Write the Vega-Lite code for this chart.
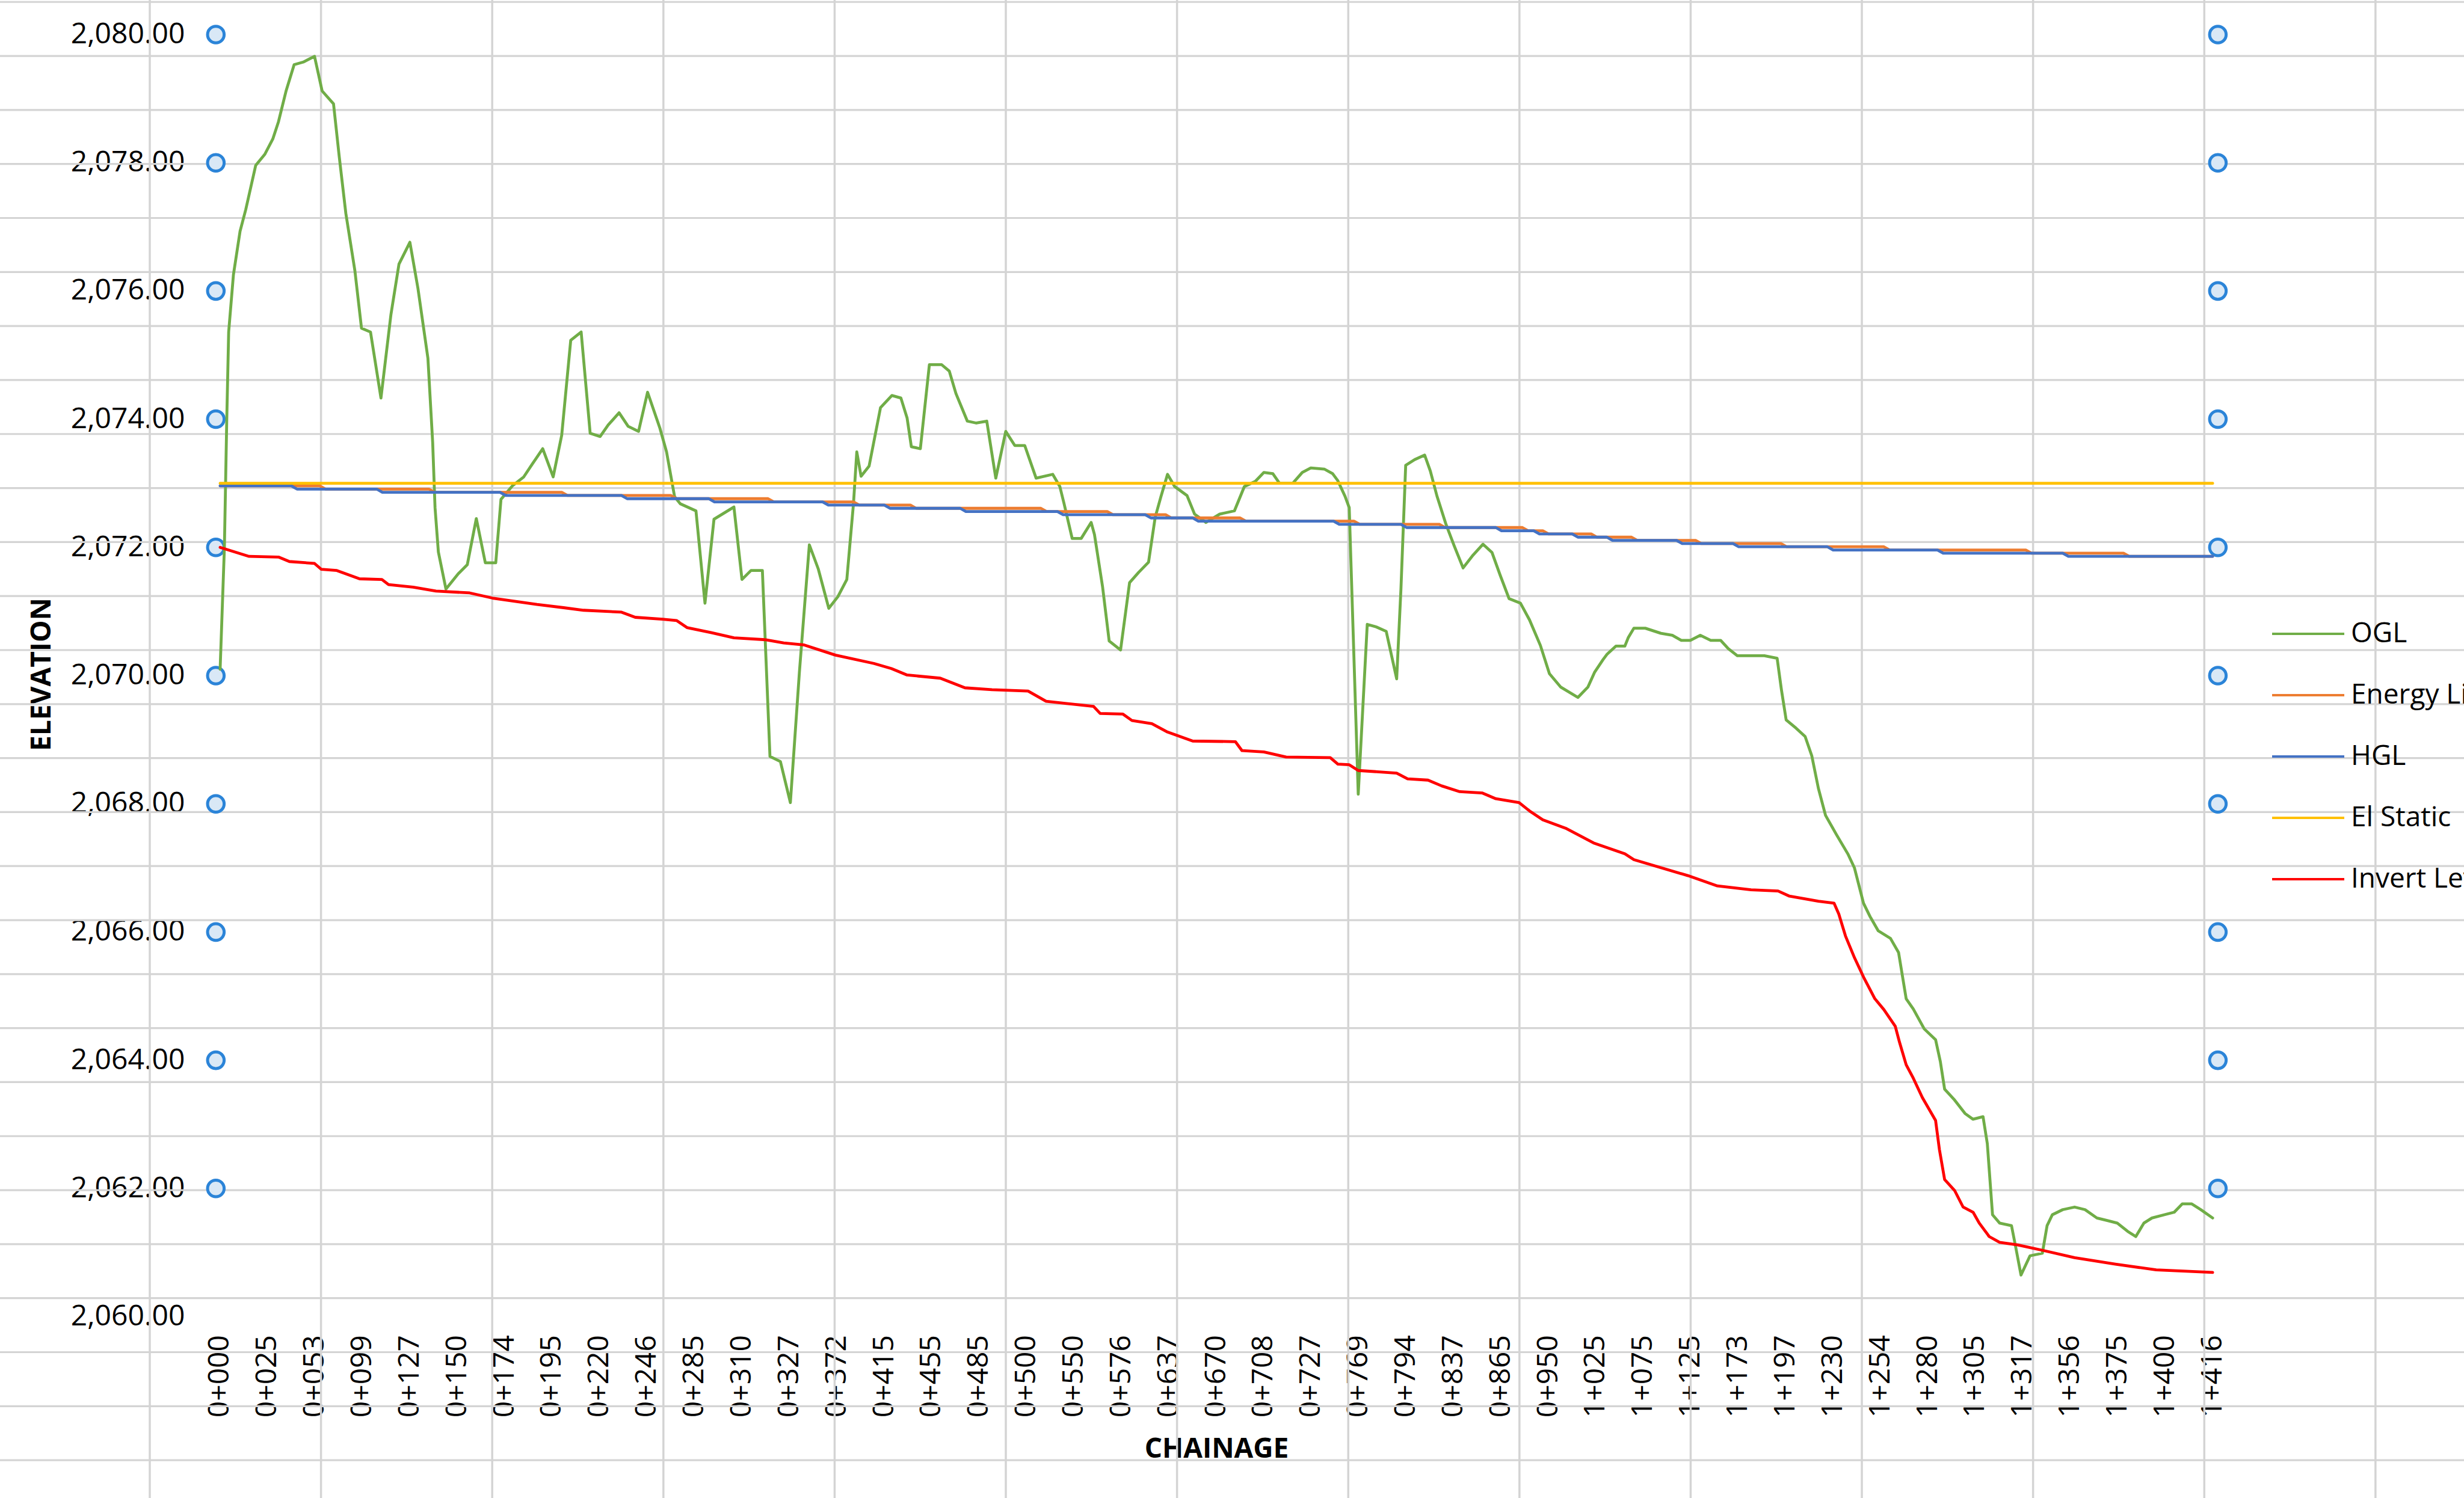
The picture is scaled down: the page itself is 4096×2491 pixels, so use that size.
{
  "$schema": "https://vega.github.io/schema/vega-lite/v6.json",
  "width": 4096,
  "height": 2491,
  "padding": 0,
  "autosize": {"type": "none"},
  "background": "white",
  "config": {"view": {"stroke": null}, "font": "Open Sans"},
  "datasets": {
    "cols": [{"col":0},{"col":1},{"col":2},{"col":3},{"col":4},{"col":5},{"col":6},{"col":7},{"col":8},{"col":9},{"col":10},{"col":11},{"col":12},{"col":13}],
    "rows": [{"row":0},{"row":1},{"row":2},{"row":3},{"row":4},{"row":5},{"row":6},{"row":7},{"row":8},{"row":9},{"row":10},{"row":11},{"row":12},{"row":13},{"row":14},{"row":15},{"row":16},{"row":17},{"row":18},{"row":19},{"row":20},{"row":21},{"row":22},{"row":23},{"row":24},{"row":25},{"row":26},{"row":27}],
    "handles": [
      {"p":-0.09,"v":2062},{"p":-0.09,"v":2064},{"p":-0.09,"v":2066},{"p":-0.09,"v":2068},{"p":-0.09,"v":2070},{"p":-0.09,"v":2072},{"p":-0.09,"v":2074},{"p":-0.09,"v":2076},{"p":-0.09,"v":2078},{"p":-0.09,"v":2080},
      {"p":42.11,"v":2062},{"p":42.11,"v":2064},{"p":42.11,"v":2066},{"p":42.11,"v":2068},{"p":42.11,"v":2070},{"p":42.11,"v":2072},{"p":42.11,"v":2074},{"p":42.11,"v":2076},{"p":42.11,"v":2078},{"p":42.11,"v":2080}
    ],
    "ogl": [
      {"p":0,"v":2070.1},{"p":0.09,"v":2072.0},{"p":0.14,"v":2074.0},{"p":0.18,"v":2075.36},{"p":0.28,"v":2076.25},{"p":0.42,"v":2076.93},{"p":0.54,"v":2077.27},{"p":0.75,"v":2077.96},{"p":0.94,"v":2078.13},{"p":1.11,"v":2078.37},{"p":1.23,"v":2078.64},{"p":1.39,"v":2079.12},{"p":1.56,"v":2079.53},{"p":1.75,"v":2079.57},{"p":1.99,"v":2079.66},{"p":2.15,"v":2079.12},{"p":2.39,"v":2078.92},{"p":2.51,"v":2078.1},{"p":2.65,"v":2077.21},{"p":2.84,"v":2076.32},{"p":2.98,"v":2075.42},{"p":3.17,"v":2075.36},{"p":3.39,"v":2074.33},{"p":3.6,"v":2075.63},{"p":3.77,"v":2076.42},{"p":4.0,"v":2076.76},{"p":4.17,"v":2076.04},{"p":4.38,"v":2074.95},{"p":4.48,"v":2073.64},{"p":4.53,"v":2072.62},{"p":4.6,"v":2071.93},{"p":4.76,"v":2071.35},{"p":5.02,"v":2071.59},{"p":5.21,"v":2071.73},{"p":5.4,"v":2072.45},{"p":5.59,"v":2071.76},{"p":5.81,"v":2071.76},{"p":5.92,"v":2072.75},{"p":6.16,"v":2072.96},{"p":6.4,"v":2073.1},{"p":6.58,"v":2073.3},{"p":6.8,"v":2073.54},{"p":7.02,"v":2073.1},{"p":7.2,"v":2073.75},
      {"p":7.39,"v":2075.23},{"p":7.61,"v":2075.36},{"p":7.8,"v":2073.78},{"p":8.01,"v":2073.73},{"p":8.18,"v":2073.91},{"p":8.41,"v":2074.1},{"p":8.6,"v":2073.89},{"p":8.82,"v":2073.81},{"p":9.01,"v":2074.42},{"p":9.27,"v":2073.86},{"p":9.41,"v":2073.49},{"p":9.58,"v":2072.79},{"p":9.7,"v":2072.68},{"p":10.03,"v":2072.57},{"p":10.22,"v":2071.13},{"p":10.41,"v":2072.44},{"p":10.83,"v":2072.63},{"p":11.0,"v":2071.5},{"p":11.19,"v":2071.64},{"p":11.43,"v":2071.64},{"p":11.59,"v":2068.74},{"p":11.81,"v":2068.66},{"p":12.02,"v":2068.02},{"p":12.21,"v":2070.05},{"p":12.42,"v":2072.04},{"p":12.61,"v":2071.66},{"p":12.83,"v":2071.05},{"p":13.02,"v":2071.23},{"p":13.21,"v":2071.5},{"p":13.35,"v":2072.68},{"p":13.42,"v":2073.49},{"p":13.51,"v":2073.11},{"p":13.68,"v":2073.27},{"p":13.92,"v":2074.18},{"p":14.16,"v":2074.37},{"p":14.35,"v":2074.33},
      {"p":14.48,"v":2074.02},{"p":14.57,"v":2073.57},{"p":14.76,"v":2073.54},{"p":14.95,"v":2074.85},{"p":15.21,"v":2074.85},{"p":15.37,"v":2074.75},{"p":15.51,"v":2074.4},{"p":15.75,"v":2073.97},{"p":15.94,"v":2073.94},{"p":16.16,"v":2073.97},{"p":16.35,"v":2073.08},{"p":16.56,"v":2073.81},{"p":16.75,"v":2073.59},{"p":16.96,"v":2073.59},{"p":17.2,"v":2073.08},{"p":17.55,"v":2073.14},{"p":17.7,"v":2072.95},{"p":17.79,"v":2072.68},{"p":17.96,"v":2072.14},{"p":18.15,"v":2072.14},{"p":18.36,"v":2072.39},{"p":18.43,"v":2072.2},{"p":18.6,"v":2071.39},{"p":18.74,"v":2070.54},{"p":18.98,"v":2070.4},{"p":19.17,"v":2071.45},{"p":19.36,"v":2071.61},{"p":19.57,"v":2071.77},{"p":19.71,"v":2072.47},{"p":19.83,"v":2072.79},{"p":19.97,"v":2073.14},{"p":20.12,"v":2072.95},{"p":20.38,"v":2072.81},{"p":20.54,"v":2072.52},{"p":20.78,"v":2072.39},{"p":21.07,"v":2072.52},{"p":21.38,"v":2072.57},{"p":21.59,"v":2072.95},{"p":21.82,"v":2073.03},
      {"p":22.0,"v":2073.17},{"p":22.19,"v":2073.15},{"p":22.33,"v":2073.0},{"p":22.61,"v":2073.0},{"p":22.81,"v":2073.17},{"p":22.99,"v":2073.24},{"p":23.28,"v":2073.22},{"p":23.45,"v":2073.15},{"p":23.56,"v":2073.04},{"p":23.71,"v":2072.8},{"p":23.8,"v":2072.62},{"p":23.99,"v":2068.15},{"p":24.18,"v":2070.8},{"p":24.37,"v":2070.76},{"p":24.58,"v":2070.69},{"p":24.8,"v":2069.95},{"p":24.89,"v":2071.35},{"p":24.99,"v":2073.28},{"p":25.18,"v":2073.37},{"p":25.39,"v":2073.44},{"p":25.51,"v":2073.19},{"p":25.65,"v":2072.8},{"p":25.84,"v":2072.36},{"p":26.01,"v":2072.03},{"p":26.2,"v":2071.68},{"p":26.41,"v":2071.88},{"p":26.62,"v":2072.05},{"p":26.81,"v":2071.92},{"p":26.98,"v":2071.57},{"p":27.17,"v":2071.2},{"p":27.41,"v":2071.13},{"p":27.6,"v":2070.87},{"p":27.83,"v":2070.47},{"p":28.02,"v":2070.03},{"p":28.26,"v":2069.82},{"p":28.62,"v":2069.66},{"p":28.83,"v":2069.82},{"p":28.97,"v":2070.05},
      {"p":29.15,"v":2070.25},{"p":29.23,"v":2070.33},{"p":29.42,"v":2070.46},{"p":29.61,"v":2070.46},{"p":29.68,"v":2070.59},{"p":29.8,"v":2070.74},{"p":30.04,"v":2070.74},{"p":30.37,"v":2070.66},{"p":30.61,"v":2070.63},{"p":30.8,"v":2070.55},{"p":30.99,"v":2070.55},{"p":31.2,"v":2070.63},{"p":31.42,"v":2070.55},{"p":31.63,"v":2070.55},{"p":31.79,"v":2070.42},{"p":31.98,"v":2070.31},{"p":32.55,"v":2070.31},{"p":32.82,"v":2070.27},{"p":32.91,"v":2069.78},{"p":33.01,"v":2069.31},{"p":33.22,"v":2069.18},{"p":33.41,"v":2069.05},{"p":33.55,"v":2068.75},{"p":33.69,"v":2068.24},{"p":33.84,"v":2067.82},{"p":34.07,"v":2067.52},{"p":34.31,"v":2067.22},{"p":34.45,"v":2067.0},{"p":34.64,"v":2066.45},{"p":34.78,"v":2066.24},{"p":34.95,"v":2066.02},{"p":35.21,"v":2065.9},{"p":35.38,"v":2065.68},{"p":35.54,"v":2064.96},{"p":35.69,"v":2064.8},{"p":35.92,"v":2064.49},{"p":36.16,"v":2064.32},{"p":36.26,"v":2063.98},{"p":36.35,"v":2063.55},{"p":36.56,"v":2063.38},{"p":36.78,"v":2063.17},{"p":36.95,"v":2063.08},{"p":37.16,"v":2063.12},{"p":37.25,"v":2062.7},{"p":37.36,"v":2061.59},{"p":37.51,"v":2061.46},{"p":37.76,"v":2061.42},{"p":37.85,"v":2061.08},{"p":37.96,"v":2060.65},{"p":38.15,"v":2060.95},{"p":38.41,"v":2060.99},{"p":38.51,"v":2061.42},{"p":38.62,"v":2061.59},{"p":38.84,"v":2061.67},{"p":39.09,"v":2061.71},{"p":39.31,"v":2061.67},{"p":39.56,"v":2061.54},{"p":39.78,"v":2061.5},{"p":39.99,"v":2061.46},{"p":40.21,"v":2061.33},{"p":40.38,"v":2061.25},{"p":40.55,"v":2061.46},{"p":40.72,"v":2061.54},{"p":40.98,"v":2061.59},{"p":41.19,"v":2061.63},{"p":41.36,"v":2061.76},{"p":41.56,"v":2061.76},{"p":41.75,"v":2061.67},{"p":42.0,"v":2061.54}
    ],
    "egl": [
      {"p":0,"v":2072.96},{"p":2.1,"v":2072.96},{"p":2.22,"v":2072.91},{"p":4.4,"v":2072.91},{"p":4.52,"v":2072.86},{"p":7.2,"v":2072.86},{"p":7.32,"v":2072.81},{"p":9.5,"v":2072.81},{"p":9.62,"v":2072.76},{"p":11.55,"v":2072.76},{"p":11.67,"v":2072.71},{"p":13.35,"v":2072.71},{"p":13.47,"v":2072.66},{"p":14.55,"v":2072.66},{"p":14.67,"v":2072.61},{"p":17.3,"v":2072.61},{"p":17.42,"v":2072.56},{"p":18.7,"v":2072.56},{"p":18.82,"v":2072.51},{"p":19.93,"v":2072.51},{"p":20.05,"v":2072.46},{"p":21.5,"v":2072.46},{"p":21.62,"v":2072.41},{"p":23.9,"v":2072.41},{"p":24.02,"v":2072.36},{"p":25.7,"v":2072.36},{"p":25.82,"v":2072.31},{"p":27.45,"v":2072.31},{"p":27.57,"v":2072.26},{"p":27.88,"v":2072.26},{"p":28.0,"v":2072.21},{"p":28.9,"v":2072.21},{"p":29.02,"v":2072.16},{"p":29.75,"v":2072.16},{"p":29.87,"v":2072.11},{"p":31.1,"v":2072.11},{"p":31.22,"v":2072.06},{"p":32.9,"v":2072.06},{"p":33.02,"v":2072.01},{"p":35.07,"v":2072.01},{"p":35.19,"v":2071.96},{"p":38.06,"v":2071.96},{"p":38.18,"v":2071.91},{"p":40.12,"v":2071.91},{"p":40.24,"v":2071.86},{"p":42.0,"v":2071.86}
    ],
    "hgl": [
      {"p":0,"v":2072.96},{"p":1.5,"v":2072.96},{"p":1.62,"v":2072.91},{"p":3.3,"v":2072.91},{"p":3.42,"v":2072.86},{"p":5.9,"v":2072.86},{"p":6.02,"v":2072.81},{"p":8.46,"v":2072.81},{"p":8.58,"v":2072.76},{"p":10.3,"v":2072.76},{"p":10.42,"v":2072.71},{"p":12.7,"v":2072.71},{"p":12.82,"v":2072.66},{"p":14.0,"v":2072.66},{"p":14.12,"v":2072.61},{"p":15.6,"v":2072.61},{"p":15.72,"v":2072.56},{"p":17.65,"v":2072.56},{"p":17.77,"v":2072.51},{"p":19.5,"v":2072.51},{"p":19.62,"v":2072.46},{"p":20.5,"v":2072.46},{"p":20.62,"v":2072.41},{"p":23.47,"v":2072.41},{"p":23.59,"v":2072.36},{"p":24.89,"v":2072.36},{"p":25.01,"v":2072.31},{"p":26.89,"v":2072.31},{"p":27.01,"v":2072.26},{"p":27.69,"v":2072.26},{"p":27.81,"v":2072.21},{"p":28.5,"v":2072.21},{"p":28.62,"v":2072.16},{"p":29.23,"v":2072.16},{"p":29.35,"v":2072.11},{"p":30.7,"v":2072.11},{"p":30.82,"v":2072.06},{"p":31.89,"v":2072.06},{"p":32.01,"v":2072.01},{"p":33.88,"v":2072.01},{"p":34.0,"v":2071.96},{"p":36.2,"v":2071.96},{"p":36.32,"v":2071.91},{"p":38.84,"v":2071.91},{"p":38.96,"v":2071.86},{"p":42.0,"v":2071.86}
    ],
    "stat": [{"p":0,"v":2073.0},{"p":42.0,"v":2073.0}],
    "inv": [
      {"p":0,"v":2072.0},{"p":0.61,"v":2071.86},{"p":1.23,"v":2071.85},{"p":1.46,"v":2071.78},{"p":1.99,"v":2071.75},{"p":2.13,"v":2071.66},{"p":2.46,"v":2071.64},{"p":2.94,"v":2071.51},{"p":3.41,"v":2071.5},{"p":3.55,"v":2071.42},{"p":4.07,"v":2071.38},{"p":4.55,"v":2071.32},{"p":5.26,"v":2071.29},{"p":5.74,"v":2071.21},{"p":6.21,"v":2071.16},{"p":6.68,"v":2071.11},{"p":7.24,"v":2071.06},{"p":7.66,"v":2071.02},{"p":8.46,"v":2070.99},{"p":8.75,"v":2070.91},{"p":9.32,"v":2070.88},{"p":9.62,"v":2070.86},{"p":9.84,"v":2070.75},{"p":10.36,"v":2070.67},{"p":10.83,"v":2070.59},{"p":11.5,"v":2070.56},{"p":11.88,"v":2070.51},{"p":12.3,"v":2070.48},{"p":12.97,"v":2070.32},{"p":13.78,"v":2070.19},{"p":14.15,"v":2070.11},{"p":14.48,"v":2070.01},{"p":15.18,"v":2069.96},{"p":15.7,"v":2069.81},{"p":16.27,"v":2069.78},{"p":17.03,"v":2069.76},{"p":17.41,"v":2069.6},{"p":18.41,"v":2069.52},{"p":18.55,"v":2069.41},{"p":19.03,"v":2069.4},{"p":19.22,"v":2069.3},{"p":19.64,"v":2069.25},{"p":19.97,"v":2069.12},{"p":20.5,"v":2068.98},{"p":21.4,"v":2068.97},{"p":21.54,"v":2068.83},{"p":22.0,"v":2068.81},{"p":22.47,"v":2068.73},{"p":23.4,"v":2068.72},{"p":23.56,"v":2068.62},{"p":23.8,"v":2068.61},{"p":23.99,"v":2068.52},{"p":24.8,"v":2068.48},{"p":25.03,"v":2068.39},{"p":25.46,"v":2068.37},{"p":25.75,"v":2068.28},{"p":26.13,"v":2068.19},{"p":26.6,"v":2068.17},{"p":26.89,"v":2068.08},{"p":27.38,"v":2068.02},{"p":27.6,"v":2067.89},{"p":27.88,"v":2067.75},{"p":28.36,"v":2067.62},{"p":28.95,"v":2067.39},{"p":29.61,"v":2067.22},{"p":29.8,"v":2067.13},{"p":30.94,"v":2066.88},{"p":31.56,"v":2066.72},{"p":32.27,"v":2066.66},{"p":32.84,"v":2066.64},{"p":33.08,"v":2066.56},{"p":33.69,"v":2066.48},{"p":34.02,"v":2066.45},{"p":34.12,"v":2066.28},{"p":34.26,"v":2065.94},{"p":34.45,"v":2065.6},{"p":34.64,"v":2065.3},{"p":34.88,"v":2064.96},{"p":35.07,"v":2064.79},{"p":35.31,"v":2064.53},{"p":35.4,"v":2064.28},{"p":35.54,"v":2063.93},{"p":35.69,"v":2063.72},{"p":35.88,"v":2063.42},{"p":36.16,"v":2063.06},{"p":36.24,"v":2062.61},{"p":36.35,"v":2062.14},{"p":36.56,"v":2061.97},{"p":36.74,"v":2061.71},{"p":36.95,"v":2061.63},{"p":37.08,"v":2061.46},{"p":37.29,"v":2061.25},{"p":37.51,"v":2061.16},{"p":37.89,"v":2061.12},{"p":38.45,"v":2061.03},{"p":39.09,"v":2060.92},{"p":39.95,"v":2060.82},{"p":40.81,"v":2060.73},{"p":42.0,"v":2060.69}
    ]
  },
  "layer": [
    {
      "data": {"name": "cols"},
      "mark": {"type": "rule", "color": "#d4d4d4", "strokeWidth": 3.5},
      "encoding": {
        "x": {"field": "col", "type": "quantitative", "scale": {"domain": [-0.8749, 13.517], "nice": false, "zero": false}, "axis": null}
      }
    },
    {
      "data": {"name": "rows"},
      "mark": {"type": "rule", "color": "#d4d4d4", "strokeWidth": 3.2},
      "encoding": {
        "y": {"field": "row", "type": "quantitative", "scale": {"domain": [-0.0363, 27.70], "reverse": true, "nice": false, "zero": false}, "axis": null}
      }
    },
    {
      "encoding": {
        "x": {
          "field": "p", "type": "quantitative",
          "scale": {"domain": [-4.640, 47.298], "nice": false, "zero": false},
          "axis": {
            "orient": "bottom", "offset": -301.5,
            "values": [0,1,2,3,4,5,6,7,8,9,10,11,12,13,14,15,16,17,18,19,20,21,22,23,24,25,26,27,28,29,30,31,32,33,34,35,36,37,38,39,40,41,42],
            "labelExpr": "['0+000','0+025','0+053','0+099','0+127','0+150','0+174','0+195','0+220','0+246','0+285','0+310','0+327','0+372','0+415','0+455','0+485','0+500','0+550','0+576','0+637','0+670','0+708','0+727','0+769','0+794','0+837','0+865','0+950','1+025','1+075','1+125','1+173','1+197','1+230','1+254','1+280','1+305','1+317','1+356','1+375','1+400','1+416'][datum.value]",
            "labelAngle": 270, "labelFont": "Open Sans", "labelFontSize": 48, "labelColor": "#000000",
            "labelPadding": 30, "labelOverlap": false, "labelBound": false, "labelFlush": false, "labelLimit": 1000,
            "ticks": false, "tickSize": 0, "domain": false, "grid": false,
            "title": "CHAINAGE", "titleFont": "Open Sans", "titleFontWeight": "bold", "titleFontSize": 46, "titleColor": "#000000",
            "titleX": 2022, "titleY": 220, "titleAlign": "center", "titleBaseline": "middle", "titleAngle": 0
          }
        },
        "y": {
          "field": "v", "type": "quantitative",
          "scale": {"domain": [2057.172, 2080.539], "nice": false, "zero": false},
          "axis": {
            "orient": "left", "offset": -365.9,
            "values": [2060,2062,2064,2066,2068,2070,2072,2074,2076,2078,2080],
            "format": ",.2f",
            "labelFont": "Open Sans", "labelFontSize": 48, "labelColor": "#000000", "labelPadding": 59, "labelLimit": 1000,
            "labelOverlap": false, "labelBound": false, "labelFlush": false,
            "ticks": false, "tickSize": 0, "domain": false, "grid": false,
            "title": "ELEVATION", "titleFont": "Open Sans", "titleFontWeight": "bold", "titleFontSize": 46, "titleColor": "#000000",
            "titleX": -296, "titleY": 1121, "titleAngle": 270, "titleAlign": "center", "titleBaseline": "middle"
          }
        }
      },
      "layer": [
        {
          "data": {"name": "handles"},
          "mark": {"type": "point", "shape": "circle", "filled": true, "fill": "#d9e8f6", "stroke": "#2b84d8", "strokeWidth": 5, "size": 760, "opacity": 1}
        },
        {
          "data": {"name": "ogl"},
          "mark": {"type": "line", "strokeWidth": 4.8, "strokeJoin": "round", "strokeCap": "round"},
          "encoding": {
            "color": {
              "datum": "OGL", "type": "nominal",
              "scale": {"domain": ["OGL", "Energy Line", "HGL", "El Static", "Invert Level"], "range": ["#70AD47", "#ED7D31", "#4472C4", "#FFC000", "#FF0000"]},
              "legend": {
                "orient": "none", "legendX": 3775, "legendY": 992, "title": null,
                "symbolType": "stroke", "symbolSize": 14400, "symbolStrokeWidth": 4,
                "labelFont": "Open Sans", "labelFontSize": 46, "labelColor": "#000000", "labelOffset": 9,
                "labelLimit": 2000, "rowPadding": 17, "padding": 0
              }
            }
          }
        },
        {
          "data": {"name": "egl"},
          "mark": {"type": "line", "strokeWidth": 4.8, "strokeJoin": "round", "strokeCap": "round"},
          "encoding": {"color": {"datum": "Energy Line", "type": "nominal"}}
        },
        {
          "data": {"name": "hgl"},
          "mark": {"type": "line", "strokeWidth": 4.8, "strokeJoin": "round", "strokeCap": "round"},
          "encoding": {"color": {"datum": "HGL", "type": "nominal"}}
        },
        {
          "data": {"name": "stat"},
          "mark": {"type": "line", "strokeWidth": 4.8, "strokeJoin": "round", "strokeCap": "round"},
          "encoding": {"color": {"datum": "El Static", "type": "nominal"}}
        },
        {
          "data": {"name": "inv"},
          "mark": {"type": "line", "strokeWidth": 4.8, "strokeJoin": "round", "strokeCap": "round"},
          "encoding": {"color": {"datum": "Invert Level", "type": "nominal"}}
        }
      ]
    }
  ],
  "resolve": {"scale": {"x": "independent", "y": "independent"}}
}
